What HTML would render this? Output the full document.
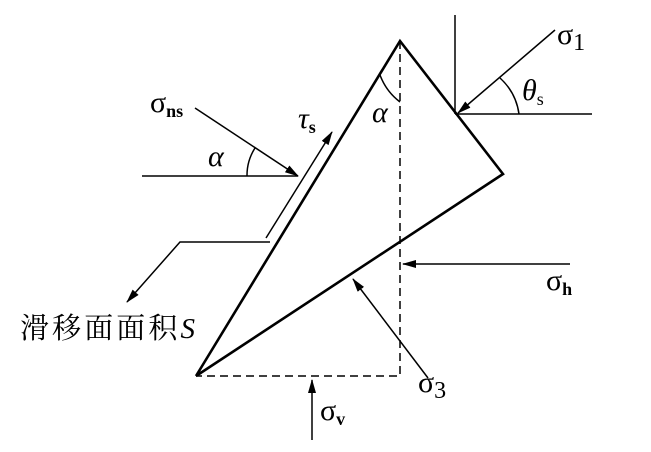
<!DOCTYPE html>
<html><head><meta charset="utf-8"><style>
body{margin:0;background:#fff}
svg{display:block}
text{font-family:"Liberation Serif","Noto Serif CJK SC",serif;fill:#000}
</style></head><body>
<svg width="651" height="452" viewBox="0 0 651 452" xmlns="http://www.w3.org/2000/svg">
<defs><marker id="a" markerWidth="14" markerHeight="8" refX="13" refY="4" orient="auto" markerUnits="userSpaceOnUse"><path d="M0,0 L14,4 L0,8 Z" fill="#000"/></marker></defs>
<g fill="none" stroke="#000">
<path d="M196,376 L400,41 L503,174 L196,376" stroke-width="2.6"/>
<path d="M400,41 L400,376 L196,376" stroke-width="1.5" stroke-dasharray="8,5"/>
<line x1="455" y1="15" x2="455" y2="114" stroke-width="1.5"/>
<line x1="455" y1="114" x2="592" y2="114" stroke-width="1.5"/>
<line x1="555" y1="30" x2="458" y2="113" stroke-width="1.5" marker-end="url(#a)"/>
<path d="M500,78 A60,60 0 0 1 519,114" stroke-width="1.5"/>
<line x1="195" y1="108" x2="298" y2="176" stroke-width="1.5" marker-end="url(#a)"/>
<line x1="142" y1="176" x2="298" y2="176" stroke-width="1.5"/>
<path d="M247,176 A51,51 0 0 1 255,148" stroke-width="1.5"/>
<path d="M380,75 A60,60 0 0 0 400,102" stroke-width="1.5"/>
<line x1="266" y1="238" x2="332" y2="132" stroke-width="1.5" marker-end="url(#a)"/>
<polyline points="270,242 180,242 127,302" stroke-width="1.5" marker-end="url(#a)"/>
<line x1="570" y1="264" x2="403" y2="264" stroke-width="1.5" marker-end="url(#a)"/>
<line x1="428" y1="378" x2="353" y2="279" stroke-width="1.5" marker-end="url(#a)"/>
<line x1="312" y1="440" x2="312" y2="380" stroke-width="1.5" marker-end="url(#a)"/>
</g>
<g font-size="30">
<text x="557" y="44">σ<tspan font-size="24" dy="6">1</tspan></text>
<text x="522" y="100" font-style="italic">θ<tspan font-size="18" font-style="normal" dy="5">s</tspan></text>
<text x="150" y="112">σ<tspan font-size="18" font-weight="bold" dy="5">ns</tspan></text>
<text x="298" y="128" font-style="italic">τ<tspan font-size="18" font-weight="bold" font-style="normal" dy="5">s</tspan></text>
<text x="208" y="166" font-style="italic">α</text>
<text x="372" y="122" font-style="italic">α</text>
<text x="546" y="290">σ<tspan font-size="18" font-weight="bold" dy="5">h</tspan></text>
<text x="418" y="392">σ<tspan font-size="24" dy="6">3</tspan></text>
<text x="320" y="420">σ<tspan font-size="18" font-weight="bold" dy="5">v</tspan></text>
<text x="20" y="338" font-size="29" textLength="175">滑移面面积<tspan font-style="italic">S</tspan></text>
</g>
</svg>
</body></html>
